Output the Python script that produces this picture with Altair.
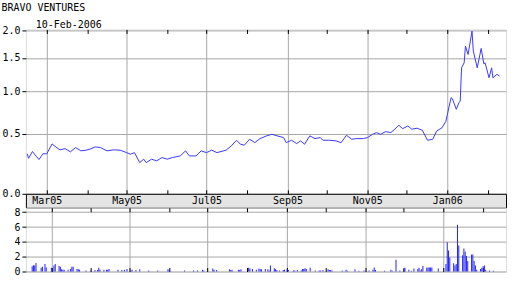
import altair as alt
import pandas as pd

title_text = "BRAVO VENTURES"
date_text = "10-Feb-2006"

price_dates = [
    "2005-02-14", "2005-02-15", "2005-02-18", "2005-02-20", "2005-02-23", "2005-02-26",
    "2005-03-01", "2005-03-05", "2005-03-08", "2005-03-11", "2005-03-15", "2005-03-19", "2005-03-23", "2005-03-27", "2005-03-31",
    "2005-04-03", "2005-04-07", "2005-04-11", "2005-04-16", "2005-04-21", "2005-04-26",
    "2005-05-01", "2005-05-04", "2005-05-07", "2005-05-11", "2005-05-14", "2005-05-16", "2005-05-20", "2005-05-24", "2005-05-28",
    "2005-06-01", "2005-06-05", "2005-06-11", "2005-06-15", "2005-06-18", "2005-06-23", "2005-06-27",
    "2005-07-01", "2005-07-05", "2005-07-09", "2005-07-16", "2005-07-20", "2005-07-24", "2005-07-27", "2005-07-30",
    "2005-08-03", "2005-08-07", "2005-08-11", "2005-08-16", "2005-08-20", "2005-08-24", "2005-08-29", "2005-08-31",
    "2005-09-04", "2005-09-08", "2005-09-11", "2005-09-14", "2005-09-18", "2005-09-22", "2005-09-26", "2005-09-28",
    "2005-10-03", "2005-10-08", "2005-10-12", "2005-10-16", "2005-10-20", "2005-10-24", "2005-10-29",
    "2005-11-01", "2005-11-05", "2005-11-08", "2005-11-11", "2005-11-15", "2005-11-19", "2005-11-22", "2005-11-25", "2005-11-28",
    "2005-12-02", "2005-12-05", "2005-12-09", "2005-12-13", "2005-12-17", "2005-12-21", "2005-12-24", "2005-12-28", "2005-12-31",
    "2006-01-04", "2006-01-05", "2006-01-08", "2006-01-10", "2006-01-11", "2006-01-12", "2006-01-14", "2006-01-15", "2006-01-17",
    "2006-01-20", "2006-01-21", "2006-01-24", "2006-01-27", "2006-01-29", "2006-01-30",
    "2006-02-02", "2006-02-04", "2006-02-05", "2006-02-08", "2006-02-10",
]
price_values = [
    0.31, 0.27, 0.33, 0.30, 0.26, 0.31,
    0.31, 0.40, 0.37, 0.345, 0.356, 0.327, 0.366, 0.336, 0.342,
    0.351, 0.372, 0.366, 0.336, 0.345, 0.342,
    0.32, 0.306, 0.32, 0.234, 0.263, 0.234, 0.263, 0.249, 0.277,
    0.263, 0.277, 0.291, 0.336, 0.291, 0.291, 0.336,
    0.32, 0.342, 0.32, 0.342, 0.381, 0.435, 0.397, 0.388,
    0.445, 0.412, 0.451, 0.478, 0.494, 0.478, 0.461, 0.412,
    0.435, 0.403, 0.429, 0.397, 0.478, 0.451, 0.461, 0.435,
    0.435, 0.429, 0.412, 0.484, 0.445, 0.451, 0.451,
    0.461, 0.494, 0.511, 0.494, 0.521, 0.511, 0.546, 0.588, 0.552,
    0.58, 0.546, 0.556, 0.535, 0.435, 0.445, 0.528, 0.56, 0.63,
    0.912, 0.899, 0.768, 0.849, 0.87, 1.339, 1.42, 1.707, 1.56,
    1.995, 1.618, 1.339, 1.666, 1.403, 1.42,
    1.187, 1.339, 1.187, 1.238, 1.213,
]

vol_dates = [
    "2005-02-14", "2005-02-15", "2005-02-16", "2005-02-17", "2005-02-21", "2005-02-22", "2005-02-24", "2005-02-25",
    "2005-03-01", "2005-03-03", "2005-03-04", "2005-03-07", "2005-03-08", "2005-03-09", "2005-03-10", "2005-03-11",
    "2005-03-14", "2005-03-16", "2005-03-17", "2005-03-18", "2005-03-21", "2005-03-22", "2005-03-23", "2005-03-28",
    "2005-04-01", "2005-04-04", "2005-04-06", "2005-04-07", "2005-04-08", "2005-04-11", "2005-04-13", "2005-04-14",
    "2005-04-15", "2005-04-22", "2005-04-25", "2005-04-27", "2005-04-29",
    "2005-05-02", "2005-05-03", "2005-05-06", "2005-05-09", "2005-05-16", "2005-05-23", "2005-05-31",
    "2005-06-01", "2005-06-13", "2005-06-20", "2005-06-23", "2005-06-27", "2005-06-28",
    "2005-07-05", "2005-07-06", "2005-07-08", "2005-07-18", "2005-07-19", "2005-07-20", "2005-07-25", "2005-07-26", "2005-07-27",
    "2005-08-02", "2005-08-03", "2005-08-05", "2005-08-08", "2005-08-10", "2005-08-11", "2005-08-12", "2005-08-15",
    "2005-08-17", "2005-08-18", "2005-08-19", "2005-08-22", "2005-08-23", "2005-08-24", "2005-08-26", "2005-08-29", "2005-08-30",
    "2005-09-01", "2005-09-02", "2005-09-06", "2005-09-07", "2005-09-09", "2005-09-12", "2005-09-13", "2005-09-14",
    "2005-09-15", "2005-09-16", "2005-09-19", "2005-09-23", "2005-09-26", "2005-09-27", "2005-09-29",
    "2005-10-03", "2005-10-04", "2005-10-05", "2005-10-06", "2005-10-14", "2005-10-17", "2005-10-18", "2005-10-24",
    "2005-10-27", "2005-10-31",
    "2005-11-04", "2005-11-07", "2005-11-08", "2005-11-09", "2005-11-16", "2005-11-21", "2005-11-22", "2005-11-25", "2005-11-28",
    "2005-12-01", "2005-12-02", "2005-12-05", "2005-12-07", "2005-12-09", "2005-12-12", "2005-12-13", "2005-12-14",
    "2005-12-15", "2005-12-16", "2005-12-19", "2005-12-20", "2005-12-21", "2005-12-22", "2005-12-23", "2005-12-28",
    "2006-01-03", "2006-01-04", "2006-01-05", "2006-01-06", "2006-01-09", "2006-01-10", "2006-01-11", "2006-01-12",
    "2006-01-13", "2006-01-16", "2006-01-17", "2006-01-18", "2006-01-19", "2006-01-20", "2006-01-23", "2006-01-24",
    "2006-01-25", "2006-01-26", "2006-01-27", "2006-01-30", "2006-01-31",
    "2006-02-01", "2006-02-02", "2006-02-03", "2006-02-06", "2006-02-09",
]
vol_values = [
    0.7, 0.85, 0.8, 1.15, 0.5, 0.65, 1.0, 0.55,
    0.5, 0.8, 1.0, 0.75, 0.65, 0.3, 0.25, 0.25,
    0.25, 0.35, 0.65, 0.65, 0.35, 0.3, 0.25, 0.15,
    0.15, 0.2, 0.2, 0.5, 0.25, 0.25, 0.25, 0.25,
    0.35, 0.25, 0.2, 0.25, 0.35,
    0.15, 0.25, 0.2, 0.3, 0.15, 0.15, 0.3,
    0.25, 0.15, 0.15, 0.15, 0.25, 0.15,
    0.4, 0.25, 0.2, 0.3, 0.2, 0.25, 0.25, 0.2, 0.3,
    0.5, 0.4, 0.35, 0.25, 0.4, 0.3, 0.3, 0.35,
    0.3, 0.15, 0.8, 0.45, 0.3, 0.2, 0.15, 0.2, 0.25,
    0.3, 0.2, 0.15, 0.15, 0.2, 0.15, 0.35, 0.35,
    0.45, 0.35, 0.5, 0.15, 0.15, 0.15, 0.2,
    0.3, 0.2, 0.2, 0.15, 0.15, 0.25, 0.1, 0.3,
    0.1, 0.15,
    0.15, 0.25, 0.55, 0.2, 0.1, 0.25, 0.1, 1.6, 0.15,
    0.3, 0.5, 0.25, 0.1, 0.4, 0.35, 0.5, 0.15,
    0.3, 0.75, 0.5, 0.55, 0.55, 0.55, 0.55, 0.4,
    1.0, 3.95, 2.84, 1.9, 1.1, 0.8, 1.0, 6.3,
    3.5, 2.2, 3.1, 2.7, 2.1, 1.4, 2.3, 2.3,
    1.4, 0.8, 0.25, 0.35, 0.5,
    0.7, 0.8, 0.25, 0.15, 0.1,
]

price_ticks = [0.0, 0.5, 1.0, 1.5, 2.0]
vol_ticks = [0, 2, 4, 6, 8]
tick_months = [(2005, 3), (2005, 4), (2005, 5), (2005, 6), (2005, 7), (2005, 8), (2005, 9),
               (2005, 10), (2005, 11), (2005, 12), (2006, 1), (2006, 2)]

price_df = pd.DataFrame({"date": price_dates, "price": price_values})
vol_df = pd.DataFrame({"date": vol_dates, "volume": vol_values})

FONT = "DejaVu Sans Mono"
GRID = "#a8a8a8"
W = 482
month_vals = [alt.DateTime(year=y, month=m, date=1, utc=True) for y, m in tick_months]
x_scale = alt.Scale(domain=[alt.DateTime(year=2005, month=2, date=13, utc=True),
                            alt.DateTime(year=2006, month=2, date=15, utc=True)])
even = "utcmonth(datum.value) % 2 == 0"
grid_op = {"condition": {"test": even, "value": 1}, "value": 0}


def inner_x_axis(orient, grid):
    kw = dict(orient=orient, offset=-4, values=month_vals, tickSize=4, tickColor="black",
              labels=False, domain=False, title=None, grid=grid)
    if grid:
        kw.update(gridColor=GRID, gridOpacity=grid_op)
    return alt.Axis(**kw)


def left_y_axis(values, fmt):
    return alt.Axis(values=values, format=fmt, tickSize=4, tickColor="black", labelPadding=2,
                    labelFont=FONT, labelFontSize=10, labelColor="black",
                    domain=False, grid=True, gridColor=GRID, title=None)


line = alt.Chart(price_df).mark_line(color="#3a3aff", strokeWidth=1).encode(
    x=alt.X("date:T", scale=x_scale, axis=inner_x_axis("bottom", True)),
    y=alt.Y("price:Q", scale=alt.Scale(type="symlog", constant=1, domain=[0, 2.03]),
            axis=left_y_axis(price_ticks, ".1f")),
)
line_top = alt.Chart(price_df).mark_point(opacity=0).encode(
    x=alt.X("date:T", scale=x_scale, axis=inner_x_axis("top", False)),
)
price = alt.layer(line, line_top).resolve_axis(x="independent").properties(
    width=W, height=165,
    title=alt.TitleParams(date_text, anchor="start", frame="group", dx=10, offset=-4,
                          font=FONT, fontSize=10, fontWeight="normal", color="black"),
)

band = alt.Chart(price_df).mark_point(opacity=0).encode(
    x=alt.X("date:T", scale=x_scale,
            axis=alt.Axis(orient="bottom", offset=-14, values=month_vals, ticks=False, domain=False,
                          grid=False, labelOverlap=False, labelBaseline="top", labelPadding=2,
                          labelFont=FONT, labelFontSize=10, labelColor="black",
                          labelExpr=f"{even} ? utcFormat(datum.value, '%b%y') : ''", title=None)),
).properties(width=W, height=14, view=alt.ViewBackground(fill="#e4e4e4", stroke="black"))

bars = alt.Chart(vol_df).mark_bar(color="#2222ff", size=1).encode(
    x=alt.X("date:T", scale=x_scale, axis=inner_x_axis("bottom", True)),
    y=alt.Y("volume:Q", scale=alt.Scale(domain=[0, 8.6]), axis=left_y_axis(vol_ticks, "d")),
)
bars_top = alt.Chart(vol_df).mark_point(opacity=0).encode(
    x=alt.X("date:T", scale=x_scale, axis=inner_x_axis("top", False)),
)
volume = alt.layer(bars, bars_top).resolve_axis(x="independent").properties(width=W, height=64)

chart = alt.vconcat(price, band, volume, spacing=0, bounds="flush").properties(
    title=alt.TitleParams(title_text, anchor="start", font=FONT, fontSize=10,
                          fontWeight="normal", color="black", offset=6),
    padding={"left": 1, "top": 2, "right": 5, "bottom": 5},
).configure_view(stroke="black", strokeWidth=1).configure(background="white")

chart.save("out.html", embed_options={"renderer": "svg", "actions": False})
